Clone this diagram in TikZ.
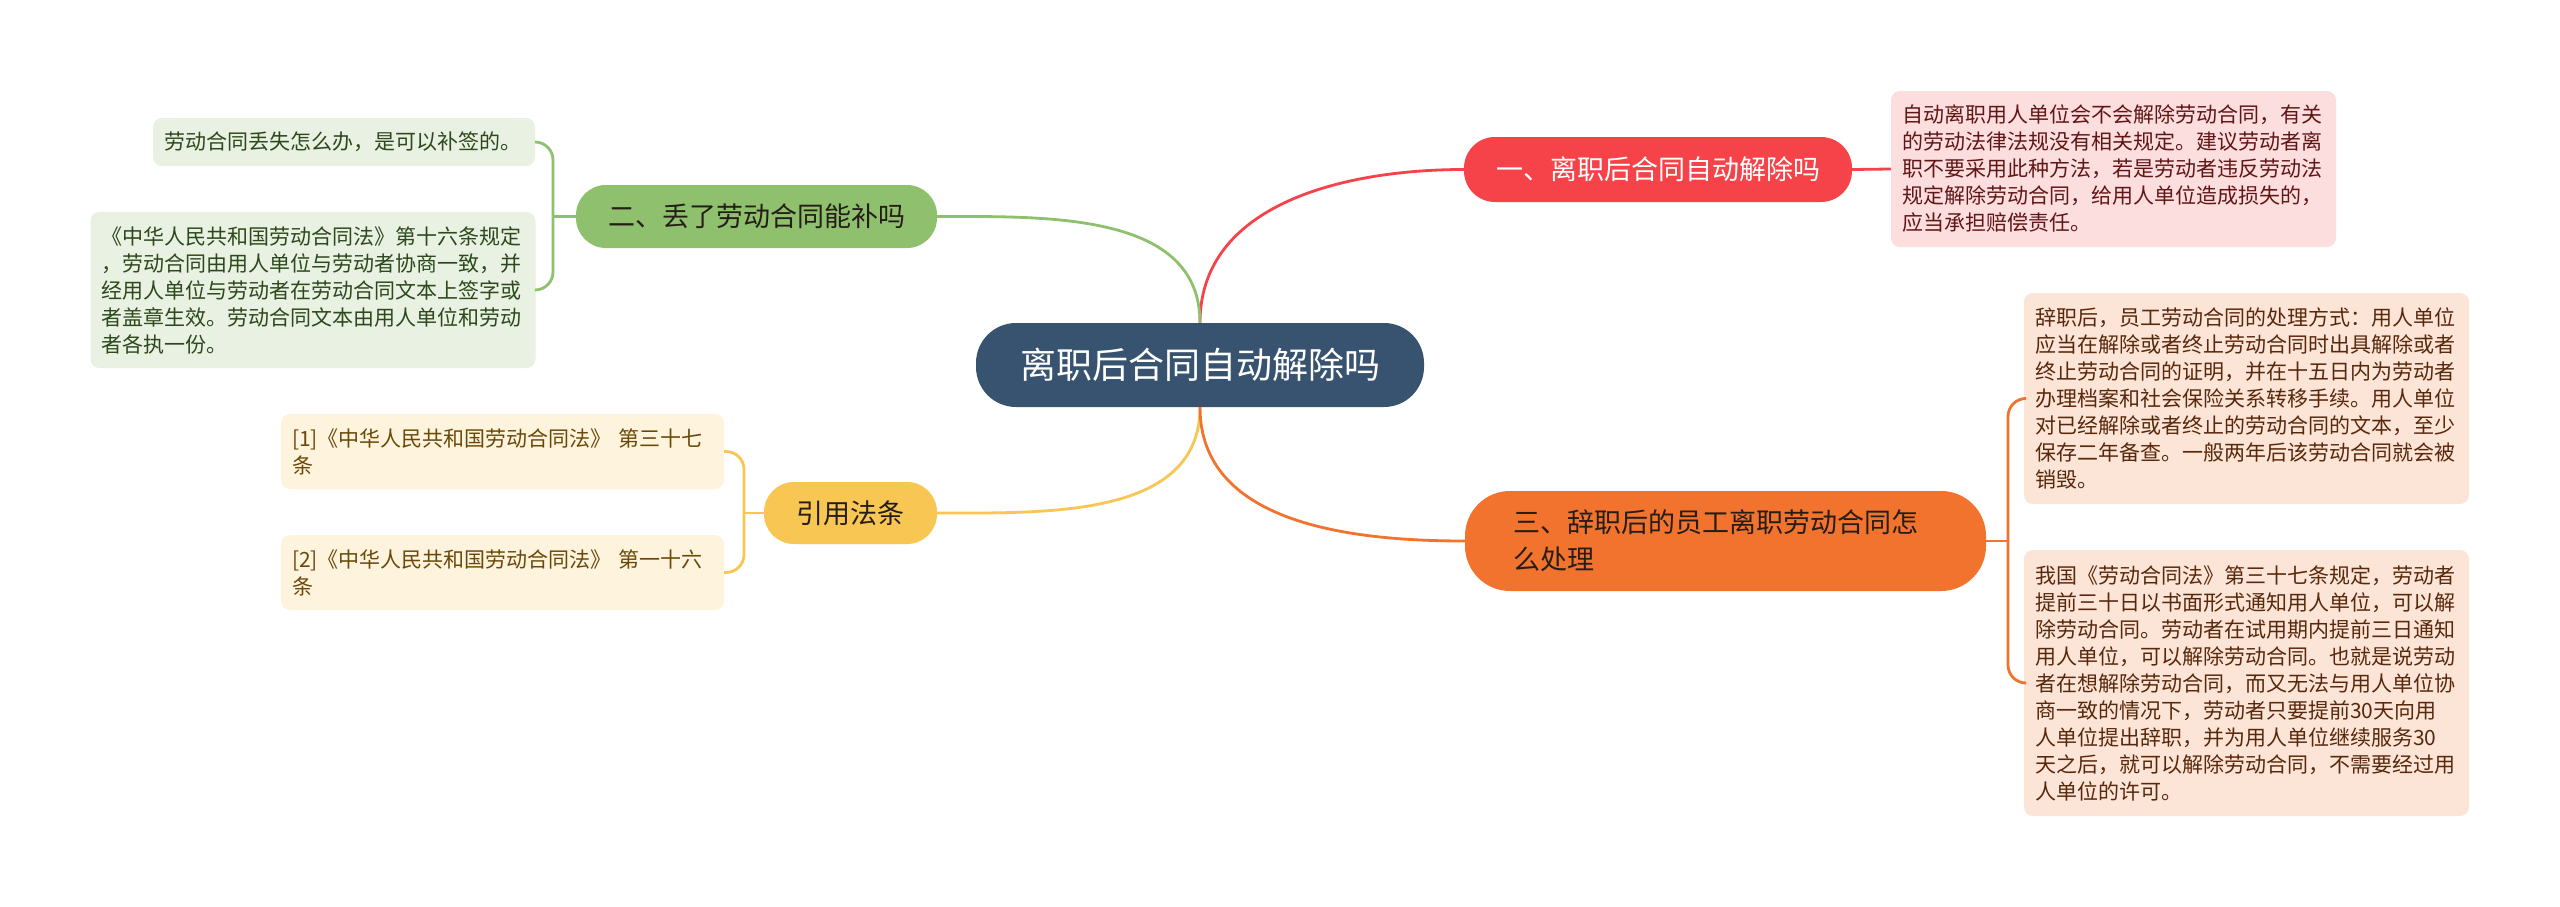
\documentclass[tikz,border=0pt]{standalone}
\usepackage{fontspec}
\setmainfont{Noto Sans CJK SC}
\usetikzlibrary{positioning}
\definecolor{lzblue}{RGB}{55,83,111}
\definecolor{lzred}{RGB}{245,67,73}
\definecolor{lzredbg}{RGB}{253,222,222}
\definecolor{lzredtx}{RGB}{96,22,22}
\definecolor{lzorange}{RGB}{241,115,45}
\definecolor{lzorangebg}{RGB}{252,229,215}
\definecolor{lzorangetx}{RGB}{88,40,12}
\definecolor{lzgreen}{RGB}{142,192,110}
\definecolor{lzgreenbg}{RGB}{233,241,226}
\definecolor{lzgreentx}{RGB}{44,72,28}
\definecolor{lzyellow}{RGB}{248,198,82}
\definecolor{lzyellowbg}{RGB}{254,243,221}
\definecolor{lzyellowtx}{RGB}{105,72,8}
\definecolor{lzdark}{RGB}{38,30,22}

\begin{document}
\begin{tikzpicture}[x=1pt,y=1pt,
  main/.style={fill=lzblue,text=white,rounded corners=40pt,inner sep=0pt,
    minimum width=448pt,minimum height=84pt,font=\fontsize{36}{44}\selectfont},
  branch/.style={rounded corners=30pt,inner sep=0pt,minimum height=63pt,
    font=\fontsize{27}{37}\selectfont},
  leaf/.style={rounded corners=9pt,inner xsep=11pt,inner ysep=0pt,text width=423pt,
    align=left,font=\fontsize{21}{27}\selectfont},
  link/.style={line width=2.8pt}]
  \fill[white] (0,0) rectangle (2560,-907);
  \useasboundingbox (0,0) rectangle (2560,-907);

  % centre and branches
  \node[main] (root) at (1200,-365) {离职后合同自动解除吗};
  \node[branch,fill=lzred,text=white,minimum width=388pt,minimum height=65pt,rounded corners=31pt]
    (b1) at (1658,-169.5) {一、离职后合同自动解除吗};
  \node[branch,fill=lzgreen,text=lzdark,minimum width=361pt] (b2) at (756.5,-216.5) {二、丢了劳动合同能补吗};
  \node[branch,fill=lzorange,text=lzdark,minimum height=100pt,rounded corners=45pt,
    text width=425pt,align=left,inner xsep=48pt] (b3) at (1725.5,-541)
    {三、辞职后的员工离职劳动合同怎\\么处理};
  \node[branch,fill=lzyellow,text=lzdark,minimum width=173pt,minimum height=62pt]
    (b4) at (850.5,-513) {引用法条};

  % leaves
  \node[leaf,fill=lzredbg,text=lzredtx,minimum height=156pt] (rl) at (2113.5,-169) {%
    自动离职用人单位会不会解除劳动合同，有关\\
    的劳动法律法规没有相关规定。建议劳动者离\\
    职不要采用此种方法，若是劳动者违反劳动法\\
    规定解除劳动合同，给用人单位造成损失的，\\
    应当承担赔偿责任。};
  \node[leaf,fill=lzorangebg,text=lzorangetx,minimum height=211pt] (ol1) at (2246.5,-398.5) {%
    辞职后，员工劳动合同的处理方式：用人单位\\
    应当在解除或者终止劳动合同时出具解除或者\\
    终止劳动合同的证明，并在十五日内为劳动者\\
    办理档案和社会保险关系转移手续。用人单位\\
    对已经解除或者终止的劳动合同的文本，至少\\
    保存二年备查。一般两年后该劳动合同就会被\\
    销毁。};
  \node[leaf,fill=lzorangebg,text=lzorangetx,minimum height=266pt] (ol2) at (2246.5,-683) {%
    我国《劳动合同法》第三十七条规定，劳动者\\
    提前三十日以书面形式通知用人单位，可以解\\
    除劳动合同。劳动者在试用期内提前三日通知\\
    用人单位，可以解除劳动合同。也就是说劳动\\
    者在想解除劳动合同，而又无法与用人单位协\\
    商一致的情况下，劳动者只要提前30天向用\\
    人单位提出辞职，并为用人单位继续服务30\\
    天之后，就可以解除劳动合同，不需要经过用\\
    人单位的许可。};
  \node[leaf,fill=lzgreenbg,text=lzgreentx,text width=360pt,minimum height=48pt] (gl1) at (344,-142) {%
    劳动合同丢失怎么办，是可以补签的。};
  \node[leaf,fill=lzgreenbg,text=lzgreentx,minimum height=156pt] (gl2) at (313,-290) {%
    《中华人民共和国劳动合同法》第十六条规定\\
    ，劳动合同由用人单位与劳动者协商一致，并\\
    经用人单位与劳动者在劳动合同文本上签字或\\
    者盖章生效。劳动合同文本由用人单位和劳动\\
    者各执一份。};
  \node[leaf,fill=lzyellowbg,text=lzyellowtx,text width=421pt,minimum height=75pt] (yl1) at (502.5,-451.5) {%
    [1]《中华人民共和国劳动合同法》 第三十七\\条};
  \node[leaf,fill=lzyellowbg,text=lzyellowtx,text width=421pt,minimum height=75pt] (yl2) at (502.5,-572.5) {%
    [2]《中华人民共和国劳动合同法》 第一十六\\条};

  % main curves
  \draw[lzred,link] (root.north) to[out=90,in=180] (b1.west);
  \draw[lzgreen,link] (root.north) to[out=90,in=0] (b2.east);
  \draw[lzyellow,link] (root.south) to[out=-90,in=0] (b4.east);
  \draw[lzorange,link] (root.south) to[out=-90,in=180] (b3.west);

  % brackets
  \coordinate (gj) at (553,-216.5);
  \coordinate (yj) at (744,-513);
  \coordinate (oj) at (2008,-541);
  \draw[lzred,link] (b1.east) -- (rl.west);
  \draw[lzgreen,link] (b2.west) -- (gj);
  \draw[lzgreen,link,rounded corners=18pt] (gj) |- (gl1.east);
  \draw[lzgreen,link,rounded corners=18pt] (gj) |- (gl2.east);
  \draw[lzyellow,link] (b4.west) -- (yj);
  \draw[lzyellow,link,rounded corners=18pt] (yj) |- (yl1.east);
  \draw[lzyellow,link,rounded corners=18pt] (yj) |- (yl2.east);
  \draw[lzorange,link] (b3.east) -- (oj);
  \draw[lzorange,link,rounded corners=18pt] (oj) |- (ol1.west);
  \draw[lzorange,link,rounded corners=18pt] (oj) |- (ol2.west);
\end{tikzpicture}
\end{document}
